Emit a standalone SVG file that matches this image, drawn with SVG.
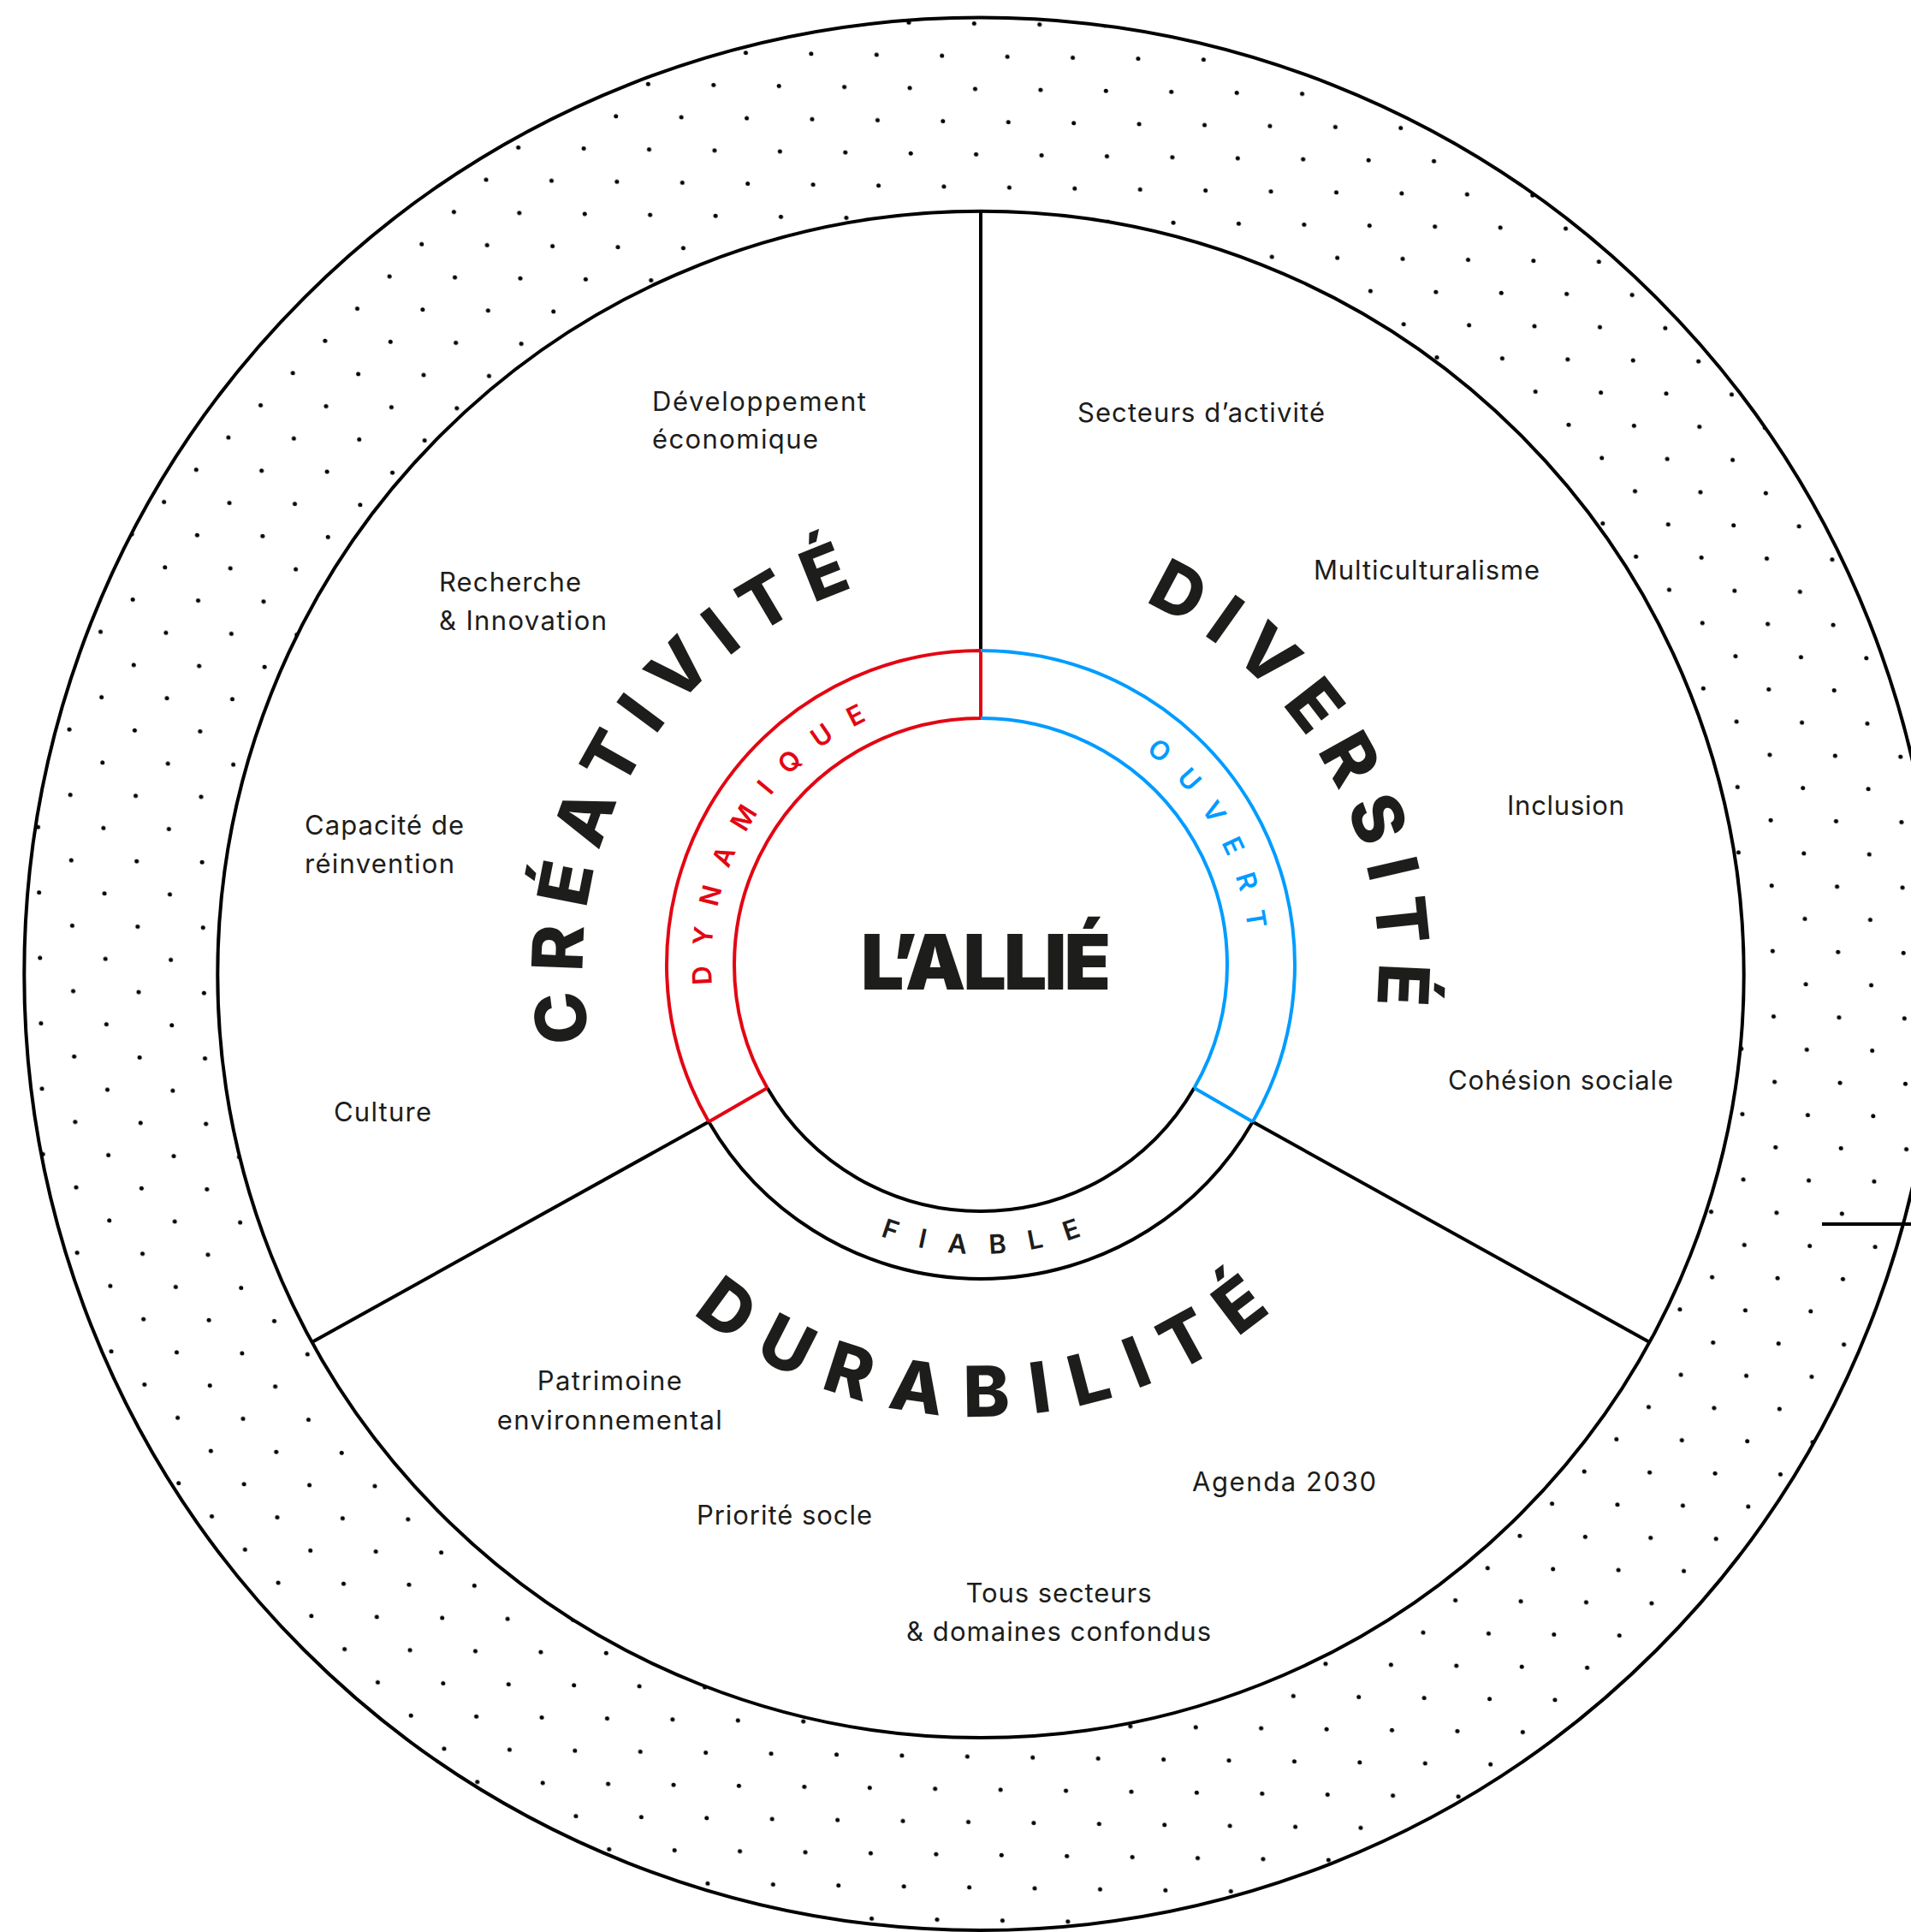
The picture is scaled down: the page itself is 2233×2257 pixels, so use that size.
<svg xmlns="http://www.w3.org/2000/svg" width="2233" height="2257" viewBox="0 0 2233 2257">
<defs>
<style>
.lbl{font-family:Inter,"Liberation Sans",sans-serif;font-size:31px;font-weight:400;fill:#1d1d1b}
.big{font-family:Inter,"Liberation Sans",sans-serif;font-size:82px;font-weight:800;fill:#1d1d1b}
.small{font-family:Inter,"Liberation Sans",sans-serif;font-size:31px;font-weight:600}
.ln{fill:none;stroke:#000;stroke-width:4}
.red{fill:none;stroke:#e30613;stroke-width:4}
.blue{fill:none;stroke:#009cff;stroke-width:4}
</style>
<pattern id="dots" patternUnits="userSpaceOnUse" width="76.42" height="76.42" patternTransform="matrix(1 0.01492 0.01492 1 63.9 985.6)">
<circle cx="19.1" cy="19.1" r="2.5" fill="#000"/>
<circle cx="57.31" cy="57.31" r="2.5" fill="#000"/>
</pattern>
<path id="p-crea" d="M 689.54 1215.73 A 465 465 0 0 1 1105.47 663.77"/>
<path id="p-div" d="M 1337.35 703.2 A 465 465 0 0 1 1582.96 1286.04"/>
<path id="p-dur" d="M 809.44 1533.83 A 528 528 0 0 0 1603.26 1391"/>
<path id="p-dyn" d="M 831.85 1150.07 A 315 315 0 0 1 1091.3 816.78"/>
<path id="p-ouv" d="M 1338.7 877.82 A 315 315 0 0 1 1456.21 1181.7"/>
<path id="p-fia" d="M 1028.73 1444.01 A 338 338 0 0 0 1315 1419.72"/>
</defs>
<rect width="2233" height="2257" fill="#fff"/>
<g id="dotted-band">
<path fill="url(#dots)" fill-rule="evenodd" d="M 28.3 1137.8 a 1117.2 1117.2 0 1 0 2234.4 0 a 1117.2 1117.2 0 1 0 -2234.4 0 Z M 254.3 1138.4 a 891.7 891.7 0 1 0 1783.4 0 a 891.7 891.7 0 1 0 -1783.4 0 Z"/>
<circle class="ln" cx="1145.5" cy="1137.8" r="1117.2" stroke-width="4.5"/>
<circle class="ln" cx="1146" cy="1138.4" r="891.7"/>
<line class="ln" x1="2129" y1="1430" x2="2233" y2="1430" stroke-width="2.5"/>
</g>
<g id="connectors">
<line class="ln" x1="1146" y1="246.7" x2="1146" y2="760"/>
<line class="ln" x1="828.17" y1="1310.5" x2="364.5" y2="1568" stroke-width="3.5"/>
<line class="ln" x1="1463.83" y1="1310.5" x2="1927.5" y2="1568" stroke-width="3.5"/>
</g>
<g id="core-ring">
<path class="ln" d="M 1463.83 1310.5 A 367 367 0 0 1 828.17 1310.5 M 1395.42 1271 A 288 288 0 0 1 896.58 1271"/>
<path class="red" d="M 828.17 1310.5 A 367 367 0 0 1 1146 760 M 896.58 1271 A 288 288 0 0 1 1146 839 M 1146 760 L 1146 839 M 828.17 1310.5 L 896.58 1271"/>
<path class="blue" d="M 1146 760 A 367 367 0 0 1 1463.83 1310.5 M 1146 839 A 288 288 0 0 1 1395.42 1271 M 1463.83 1310.5 L 1395.42 1271"/>
<text class="small" fill="#e30613"><textPath href="#p-dyn" textLength="380.5" lengthAdjust="spacing">DYNAMIQUE</textPath></text>
<text class="small" fill="#009cff"><textPath href="#p-ouv" textLength="245.8" lengthAdjust="spacing">OUVERT</textPath></text>
<text class="small" fill="#1d1d1b"><textPath href="#p-fia" textLength="240.1" lengthAdjust="spacing">FIABLE</textPath></text>
</g>
<g id="node-lallie">
<text x="1006" y="1156" font-family="Inter, 'Liberation Sans', sans-serif" font-size="89" font-weight="900" fill="#1d1d1b" textLength="292" lengthAdjust="spacing">L’ALLIÉ</text>
</g>
<g id="node-creativite">
<text class="big"><textPath href="#p-crea" textLength="667.9" lengthAdjust="spacing">CRÉATIVITÉ</textPath></text>
<text class="lbl" x="762" y="480" textLength="250">Développement</text>
<text class="lbl" x="762" y="524" textLength="194">économique</text>
<text class="lbl" x="513" y="690.7" textLength="166">Recherche</text>
<text class="lbl" x="513" y="735.7" textLength="196">&amp; Innovation</text>
<text class="lbl" x="356" y="975" textLength="186">Capacité de</text>
<text class="lbl" x="356" y="1020" textLength="175">réinvention</text>
<text class="lbl" x="390" y="1310.4" textLength="114">Culture</text>
</g>
<g id="node-diversite">
<text class="big"><textPath href="#p-div" textLength="580.3" lengthAdjust="spacing">DIVERSITÉ</textPath></text>
<text class="lbl" x="1259" y="492.7" textLength="289">Secteurs d’activité</text>
<text class="lbl" x="1535" y="676.5" textLength="264">Multiculturalisme</text>
<text class="lbl" x="1761" y="951.9" textLength="137">Inclusion</text>
<text class="lbl" x="1692" y="1273" textLength="263">Cohésion sociale</text>
</g>
<g id="node-durabilite">
<text class="big"><textPath href="#p-dur" textLength="733.5" lengthAdjust="spacing">DURABILITÉ</textPath></text>
<text class="lbl" x="712.3" y="1624.3" text-anchor="middle" textLength="169">Patrimoine</text>
<text class="lbl" x="712.3" y="1670" text-anchor="middle" textLength="263">environnemental</text>
<text class="lbl" x="814" y="1781" textLength="205">Priorité socle</text>
<text class="lbl" x="1393" y="1742" textLength="215">Agenda 2030</text>
<text class="lbl" x="1237" y="1872" text-anchor="middle" textLength="217">Tous secteurs</text>
<text class="lbl" x="1237" y="1917" text-anchor="middle" textLength="356">&amp; domaines confondus</text>
</g>
</svg>
